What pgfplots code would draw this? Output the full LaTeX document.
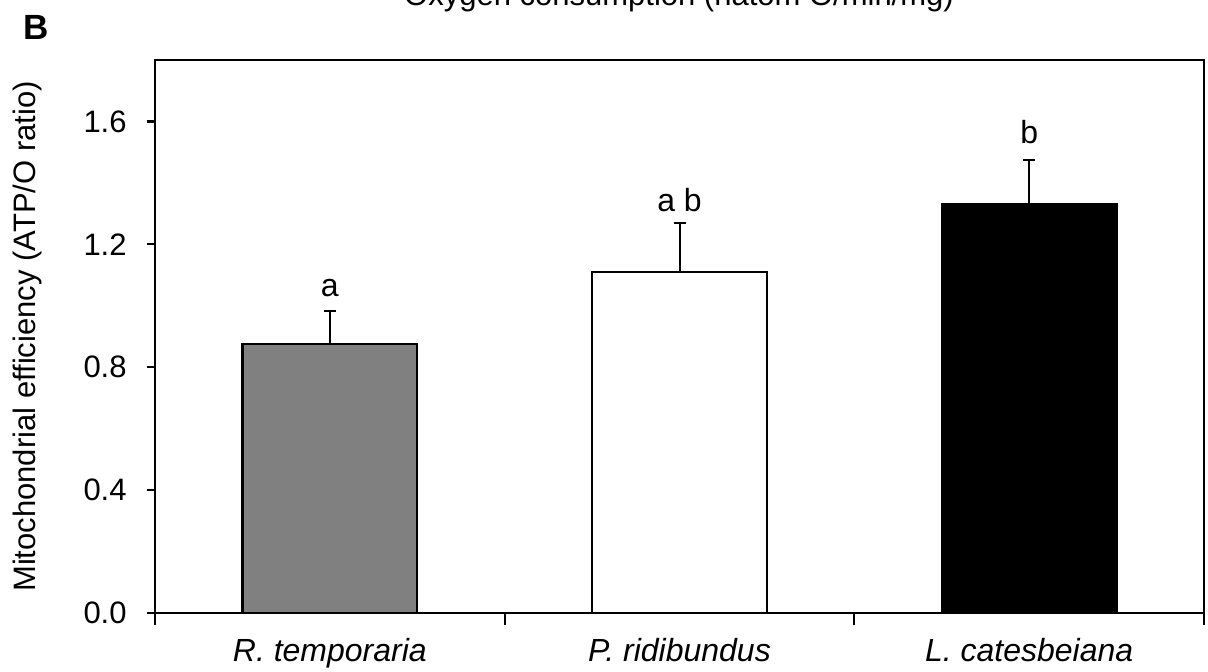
\documentclass[border=0pt]{standalone}
\usepackage{pgfplots}
\pgfplotsset{compat=1.18}
\usepackage{fontspec}
\setmainfont{Liberation Sans}
\definecolor{bargray}{HTML}{808080}
\begin{document}
\begin{tikzpicture}
\begin{axis}[
  at={(0,0)}, anchor=south west,
  scale only axis, width=524.5pt, height=276.5pt,
  xmin=0.5, xmax=3.5, ymin=0, ymax=1.8,
  axis line style={line width=1.2pt},
  ytick={0,0.4,0.8,1.2,1.6},
  yticklabels={0.0,0.4,0.8,1.2,1.6},
  ytick pos=left, xtick pos=bottom,
  tick align=outside,
  major tick length=4pt, minor tick length=6pt,
  every tick/.style={black, line width=1.1pt},
  xtick={1,2,3},
  xticklabels={\textit{R. temporaria},\textit{P. ridibundus},\textit{L. catesbeiana}},
  major x tick style={draw=none},
  minor xtick={0.5,1.5,2.5,3.5},
  yticklabel style={font=\fontsize{15.5}{18}\selectfont, anchor=east, inner sep=0pt, xshift=-10pt},
  xticklabel style={font=\fontsize{16}{19}\selectfont, anchor=base, inner sep=0pt, yshift=-20pt},
  ylabel={Mitochondrial efficiency (ATP/O ratio)},
  every axis y label/.style={at={(rel axis cs:0,0.5)}, xshift=-64pt, rotate=90, anchor=center, font=\fontsize{15.5}{18}\selectfont},
  ybar, bar width=0.5, bar shift=0pt,
  clip=false,
]
\addplot[fill=bargray, draw=black, line width=1.1pt,
  error bars/.cd, y dir=plus, y explicit,
  error bar style={line width=1pt, black},
  error mark options={rotate=90, mark size=3pt, line width=1pt, black}]
  coordinates {(1,0.875) +- (0,0.107)};
\addplot[fill=white, draw=black, line width=1.1pt,
  error bars/.cd, y dir=plus, y explicit,
  error bar style={line width=1pt, black},
  error mark options={rotate=90, mark size=3pt, line width=1pt, black}]
  coordinates {(2,1.11) +- (0,0.16)};
\addplot[fill=black, draw=black, line width=1.1pt,
  error bars/.cd, y dir=plus, y explicit,
  error bar style={line width=1pt, black},
  error mark options={rotate=90, mark size=3pt, line width=1pt, black}]
  coordinates {(3,1.33) +- (0,0.145)};
\node[font=\fontsize{16}{19}\selectfont] at (axis cs:1,1.058) {a};
\node[font=\fontsize{16}{19}\selectfont] at (axis cs:2,1.344) {a b};
\node[font=\fontsize{16}{19}\selectfont] at (axis cs:3,1.566) {b};
\end{axis}
\node[font=\fontsize{17.5}{20}\selectfont\bfseries] at (-59.5pt,292.75pt) {B};
\node[font=\fontsize{15.5}{18}\selectfont, anchor=base] at (262pt,303.5pt) {Oxygen consumption (natom O/min/mg)};
\pgfresetboundingbox
\useasboundingbox (-77.5pt,-29pt) rectangle (526.5pt,306.5pt);
\end{tikzpicture}
\end{document}
